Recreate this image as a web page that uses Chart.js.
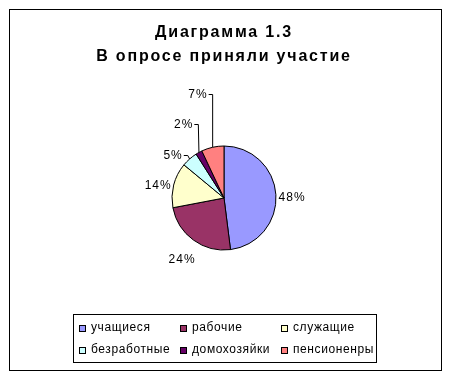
<!DOCTYPE html>
<html>
<head>
<meta charset="utf-8">
<script src="https://cdn.jsdelivr.net/npm/chart.js@4"></script>
<style>
  html, body { margin: 0; padding: 0; background: #fff; }
</style>
</head>
<body>
<canvas id="myChart" width="451" height="378"></canvas>
<script>
//data
const categories = ['учащиеся', 'рабочие', 'служащие', 'безработные', 'домохозяйки', 'пенсионенры'];
const shares = [48, 24, 14, 5, 2, 7];
const titleLines = ['Диаграмма 1.3', 'В опросе приняли участие'];

//styles
const sliceColors = ['#9999FF', '#993366', '#FFFFCC', '#CCFFFF', '#660066', '#FF8080'];
const fontFamily = 'Arial, "Liberation Sans", sans-serif';

// where each percent label sits: distance (x radius) and turn from mid angle (deg)
const labelPlacement = [
  { dist: 1.31, turn: 3.6 },
  { dist: 1.44, turn: -2 },
  { dist: 1.29, turn: -3.4 },
  { dist: 1.27, turn: -9, leader: true },
  { dist: 1.61, turn: 0, leader: true },
  { dist: 2.04, turn: -1.6, leader: true }
];

const legendBox = { left: 73, top: 314, width: 303, height: 48, colWidth: 101, rowHeight: 22, padX: 6, padY: 14, marker: 6 };

// frame around the whole picture, wide title spacing
const framePlugin = {
  id: 'frame',
  beforeDraw(chart) {
    const ctx = chart.ctx;
    ctx.save();
    ctx.fillStyle = '#fff';
    ctx.fillRect(0, 0, chart.width, chart.height);
    ctx.restore();
    ctx.letterSpacing = '1.8px'; // picked up by the title
  },
  beforeDatasetsDraw(chart) {
    chart.ctx.letterSpacing = '0px';
  },
  afterDraw(chart) {
    const ctx = chart.ctx;
    ctx.save();
    ctx.strokeStyle = '#000';
    ctx.lineWidth = 1;
    ctx.strokeRect(9.5, 9.5, 432, 361);
    ctx.restore();
  }
};

// percent labels with leader lines
const pctLabels = {
  id: 'pctLabels',
  afterDatasetsDraw(chart) {
    const ctx = chart.ctx;
    const meta = chart.getDatasetMeta(0);
    const total = shares.reduce((a, b) => a + b, 0);
    ctx.save();
    ctx.font = '12px ' + fontFamily;
    ctx.letterSpacing = '1px';
    ctx.fillStyle = '#000';
    ctx.strokeStyle = '#000';
    ctx.lineWidth = 1;
    ctx.textAlign = 'center';
    ctx.textBaseline = 'middle';
    meta.data.forEach((arc, i) => {
      const p = arc.getProps(['x', 'y', 'startAngle', 'endAngle', 'outerRadius'], true);
      const mid = (p.startAngle + p.endAngle) / 2;
      const place = labelPlacement[i];
      const a = mid + place.turn * Math.PI / 180;
      const lx = p.x + Math.cos(a) * p.outerRadius * place.dist;
      const ly = p.y + Math.sin(a) * p.outerRadius * place.dist;
      const text = Math.round(shares[i] / total * 100) + '%';
      ctx.fillText(text, lx, ly);
      if (place.leader) {
        const w = ctx.measureText(text).width;
        const sx = lx + w / 2 + 1;
        const sy = Math.round(ly) - 0.5;
        const ex = p.x + Math.cos(mid) * p.outerRadius;
        const ey = p.y + Math.sin(mid) * p.outerRadius;
        ctx.beginPath();
        ctx.moveTo(sx, sy);
        ctx.lineTo(sx + 4, sy);
        ctx.lineTo(ex, ey);
        ctx.stroke();
      }
    });
    ctx.restore();
  }
};

// boxed legend in three columns
const gridLegend = {
  id: 'gridLegend',
  afterDraw(chart) {
    const ctx = chart.ctx;
    const b = legendBox;
    ctx.save();
    ctx.strokeStyle = '#000';
    ctx.lineWidth = 1;
    ctx.strokeRect(b.left + 0.5, b.top + 0.5, b.width, b.height);
    ctx.font = '12px ' + fontFamily;
    ctx.letterSpacing = '0.6px';
    ctx.textBaseline = 'middle';
    ctx.textAlign = 'left';
    categories.forEach((name, i) => {
      const col = i % 3;
      const row = Math.floor(i / 3);
      const mx = b.left + b.padX + col * b.colWidth;
      const my = b.top + b.padY + row * b.rowHeight;
      ctx.fillStyle = sliceColors[i];
      ctx.fillRect(mx, my - b.marker / 2, b.marker, b.marker);
      ctx.strokeRect(mx + 0.5, my - b.marker / 2 + 0.5, b.marker, b.marker);
      ctx.fillStyle = '#000';
      ctx.fillText(name, mx + 12, my);
    });
    ctx.restore();
  }
};

const config = {
  type: 'pie',
  data: {
    labels: categories,
    datasets: [{
      data: shares,
      backgroundColor: sliceColors,
      borderColor: '#000',
      borderWidth: 1,
      radius: 52
    }]
  },
  options: {
    responsive: false,
    animation: false,
    events: [],
    layout: { padding: { top: 21, bottom: 51, left: 2, right: 5 } },
    plugins: {
      legend: { display: false },
      tooltip: { enabled: false },
      title: {
        display: true,
        text: titleLines,
        color: '#000',
        font: { family: fontFamily, size: 16, weight: 'bold', lineHeight: 1.5 },
        padding: { top: 0, bottom: 0 }
      }
    }
  },
  plugins: [framePlugin, pctLabels, gridLegend]
};

new Chart(document.getElementById('myChart'), config);
</script>
</body>
</html>
